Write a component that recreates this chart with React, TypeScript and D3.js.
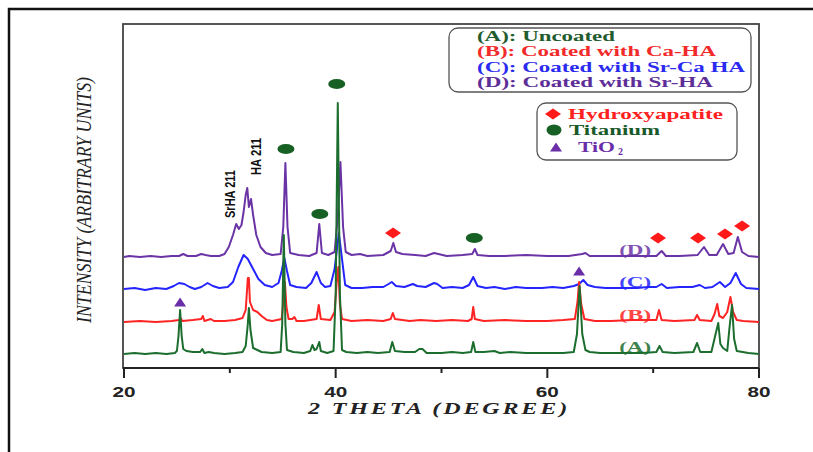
import React from 'react';
import * as d3 from 'd3';

const W = 813;
const H = 452;
const plotLeft = 124;
const plotRight = 759;
const plotTop = 24;
const plotBottom = 368;

// 2-theta (degree) vs. intensity above each pattern's own baseline (arbitrary units)
const traceA: [number, number][] = [
  [20, 0], [21, 1], [22, 0], [23, 1], [24, 0], [24.8, 1], [25.0, 3], [25.15, 18], [25.3, 44], [25.45, 18],
  [25.6, 5], [25.9, 3], [26.5, 2], [27.2, 2], [27.4, 5], [27.6, 1], [28, 2], [28.5, 1], [29.5, 0], [30.5, 1],
  [31.2, 2], [31.5, 8], [31.7, 30], [31.8, 46], [31.95, 24], [32.2, 6], [32.6, 4], [33, 2], [34, 1], [34.8, 2],
  [34.95, 30], [35.1, 119], [35.25, 30], [35.4, 4], [36, 2], [37, 1], [37.6, 3], [37.8, 9], [38.0, 4], [38.2, 5],
  [38.45, 12], [38.6, 3], [39.2, 1], [39.8, 3], [40.0, 60], [40.2, 251], [40.4, 60], [40.6, 4], [41, 2], [42, 1],
  [43, 2], [44, 1], [45.1, 2], [45.35, 12], [45.6, 3], [46.5, 2], [47.5, 2], [47.9, 5], [48.2, 5], [48.6, 1],
  [50, 1], [51, 2], [52, 1], [52.8, 2], [53.0, 12], [53.2, 2], [54, 2], [55, 3], [55.5, 1], [56.5, 2],
  [58, 1], [60, 1], [61.5, 1], [62.5, 2], [62.8, 20], [63.05, 68], [63.3, 20], [63.6, 4], [64, 2], [65, 1],
  [67, 1], [69, 1], [70.3, 2], [70.6, 8], [70.9, 2], [72, 1], [73.8, 2], [74.15, 11], [74.45, 2], [75.5, 2],
  [75.9, 20], [76.15, 31], [76.35, 10], [76.6, 6], [77.0, 3], [77.2, 25], [77.45, 49], [77.65, 15], [77.9, 3], [79, 1],
  [80, 0],
];

const traceB: [number, number][] = [
  [20, 0], [21.5, 1], [23, 0], [24.5, 1], [25.2, 2], [25.35, 4], [25.5, 1], [26.5, 2], [27.3, 3], [27.45, 6],
  [27.6, 1], [28.2, 3], [28.5, 1], [29.5, 1], [30.5, 2], [31.2, 4], [31.5, 12], [31.7, 44], [31.8, 44], [31.9, 20],
  [32.2, 12], [32.6, 10], [33.0, 6], [33.5, 2], [34, 1], [34.9, 3], [35.05, 20], [35.2, 40], [35.35, 15], [35.55, 3],
  [35.9, 3], [36.1, 5], [36.3, 1], [37, 1], [38.2, 3], [38.4, 17], [38.6, 3], [39.5, 2], [39.9, 10], [40.1, 40],
  [40.25, 55], [40.4, 18], [40.6, 3], [41.5, 1], [43, 2], [44.5, 1], [45.2, 3], [45.4, 9], [45.6, 3], [46.3, 2],
  [47, 1], [48, 2], [49.5, 1], [51, 2], [52.5, 1], [52.85, 3], [53.0, 15], [53.15, 3], [54, 1], [56, 2],
  [58, 1], [60, 1], [61.5, 2], [62.6, 3], [62.85, 20], [63.0, 40], [63.2, 18], [63.5, 3], [64.5, 1], [66, 1],
  [68, 2], [70.3, 2], [70.55, 12], [70.8, 2], [72, 1], [73.9, 2], [74.15, 7], [74.4, 2], [75.5, 1], [75.8, 8],
  [76.05, 18], [76.25, 6], [76.6, 4], [77.0, 10], [77.3, 25], [77.55, 10], [77.9, 2], [78.5, 1], [80, 0],
];

const traceC: [number, number][] = [
  [20, 0], [21, 1], [22, -1], [23, 1], [24, 0], [24.7, 3], [25.2, 6], [25.7, 5], [26.2, 2], [26.7, 0],
  [27.3, 2], [27.9, 6], [28.4, 3], [29, 1], [29.8, 2], [30.3, 7], [30.8, 22], [31.3, 34], [31.7, 30], [32.2, 20],
  [32.7, 10], [33.3, 4], [34, 2], [34.6, 6], [34.9, 18], [35.15, 31], [35.4, 18], [35.7, 4], [36.3, 2], [37.2, 1],
  [37.7, 6], [38.2, 17], [38.6, 6], [39.0, 2], [39.5, 3], [39.9, 20], [40.3, 56], [40.6, 30], [40.9, 4], [41.5, 1],
  [42.5, 1], [43.5, 2], [44.5, 2], [45.0, 5], [45.3, 7], [45.7, 3], [46.5, 2], [47.3, 5], [47.7, 3], [48.5, 2],
  [49.3, 6], [49.6, 5], [50.1, 1], [51, 2], [52, 1], [52.6, 4], [53.0, 12], [53.4, 3], [54.2, 1], [55, 2],
  [56, 0], [57, 2], [58, 1], [59.5, 1], [60.5, 2], [61.5, 1], [62.5, 3], [63.0, 5], [63.4, 9], [63.8, 4],
  [64.5, 2], [65.5, 1], [67, 1], [68.5, 1], [69.5, 2], [70.3, 2], [70.8, 5], [71.3, 1], [72.5, 2], [73.7, 2],
  [74.4, 4], [74.9, 1], [75.6, 2], [76.3, 7], [76.8, 2], [77.3, 6], [77.8, 16], [78.3, 5], [78.8, 1], [80, 0],
];

const traceD: [number, number][] = [
  [20, 0], [20.5, 1], [21.5, 0], [22.5, 1], [23.5, 0], [24.5, 1], [25.2, 1], [25.6, 3], [26, 1], [26.8, 1],
  [27.3, 3], [27.7, 2], [28.2, 1], [29, 1], [29.5, 3], [29.9, 10], [30.3, 22], [30.6, 33], [30.85, 28], [31.1, 32],
  [31.3, 45], [31.5, 62], [31.65, 69], [31.8, 50], [32.0, 58], [32.2, 42], [32.5, 22], [32.9, 10], [33.4, 4], [34, 2],
  [34.8, 3], [35.05, 30], [35.25, 94], [35.45, 30], [35.7, 4], [36.5, 2], [37.5, 1], [38.2, 4], [38.45, 33], [38.7, 4],
  [39.3, 2], [39.9, 5], [40.2, 40], [40.45, 95], [40.7, 30], [40.95, 5], [41.5, 2], [42.3, 3], [43, 1], [44.5, 2],
  [45.2, 6], [45.45, 14], [45.7, 5], [46.3, 3], [47.5, 2], [48.5, 1], [49.3, 4], [49.7, 3], [50.5, 1], [52, 2],
  [52.9, 3], [53.15, 8], [53.4, 2], [54.5, 1], [56, 1], [58, 2], [60, 1], [62, 1], [63.3, 3], [63.6, 4],
  [64, 1], [66, 1], [68, 1], [70.3, 1], [70.8, 6], [71.2, 1], [72.5, 1], [74.2, 2], [74.8, 10], [75.3, 2],
  [76.0, 2], [76.6, 13], [77.1, 3], [77.6, 4], [78.0, 20], [78.4, 5], [79, 1], [80, 0],
];

const seriesKeys = ['D', 'C', 'B', 'A'];
const seriesOffsets = [111, 79, 46, 14];
const seriesTraces = [traceD, traceC, traceB, traceA];

const legendLabels = [
  '(A): Uncoated',
  '(B): Coated with Ca-HA',
  '(C): Coated with Sr-Ca HA',
  '(D): Coated with Sr-HA',
];
const phaseLabels = ['Hydroxyapatite', 'Titanium', 'TiO'];

// peak markers: [2theta, intensity level]
const hydroxyapatiteMarks: [number, number][] = [[45.42, 135], [70.46, 130], [74.24, 130], [76.79, 134], [78.4, 142]];
const titaniumMarks: [number, number][] = [[35.3, 219], [38.5, 154], [40.1, 284], [53.1, 130]];
const tio2Marks: [number, number][] = [[25.3, 66], [63.0, 97]];

const majorTicks = [20, 40, 60, 80];
const minorTicks = [30, 50, 70];

const colors: Record<string, string> = {
  A: '#1c6e2e',
  B: '#ff2424',
  C: '#2424ff',
  D: '#6b34a6',
};
const textColors: Record<string, string> = {
  A: '#1f5c2e',
  B: '#f22a2a',
  C: '#2a2af0',
  D: '#5e2e98',
};

const x = d3.scaleLinear().domain([20, 80]).range([plotLeft, plotRight]);
const y = d3.scaleLinear().domain([0, 344]).range([plotBottom, plotTop]);

const diamond = (cx: number, cy: number, w: number, h: number) =>
  `M${cx - w},${cy}L${cx},${cy - h}L${cx + w},${cy}L${cx},${cy + h}Z`;
const triangle = (cx: number, cy: number, w: number, h: number) =>
  `M${cx - w},${cy + h / 2}L${cx},${cy - h / 2}L${cx + w},${cy + h / 2}Z`;

export default function App() {
  const serif = '"Liberation Serif", "DejaVu Serif", serif';
  const sans = '"Liberation Sans", Arial, sans-serif';

  return (
    <svg width={W} height={H} style={{ position: 'absolute', left: 0, top: 0, background: '#fff' }}>
      {/* outer frame */}
      <path d={`M9,${H}V9H${W}`} fill="none" stroke="#111" strokeWidth={2.5} />

      {/* plot box */}
      <rect x={plotLeft - 1} y={plotTop} width={plotRight - plotLeft + 1} height={plotBottom - plotTop}
        fill="none" stroke="#444" strokeWidth={1.8} />
      <line x1={plotLeft - 1} x2={plotRight} y1={plotBottom} y2={plotBottom} stroke="#222" strokeWidth={2} />

      {majorTicks.map(t => (
        <g key={t}>
          <line x1={x(t)} x2={x(t)} y1={plotBottom} y2={plotBottom + 10} stroke="#222" strokeWidth={2} />
          <text x={x(t)} y={397} textAnchor="middle" fontFamily={sans} fontWeight="bold" fontSize={14}
            textLength={23} lengthAdjust="spacingAndGlyphs" fill="#222">{t}</text>
        </g>
      ))}
      {minorTicks.map(t => (
        <line key={t} x1={x(t)} x2={x(t)} y1={plotBottom} y2={plotBottom + 5} stroke="#222" strokeWidth={2} />
      ))}

      <text x={439} y={414} textAnchor="middle" fontFamily={serif} fontStyle="italic" fontWeight="bold"
        fontSize={17} letterSpacing={2} textLength={262} lengthAdjust="spacingAndGlyphs" fill="#222">2 THETA (DEGREE)</text>

      <text transform="translate(91,200) rotate(-90)" textAnchor="middle" fontFamily={serif} fontStyle="italic"
        fontSize={21} textLength={246} lengthAdjust="spacingAndGlyphs" fill="#222">INTENSITY (ARBITRARY UNITS)</text>

      {/* patterns */}
      {seriesKeys.map((k, i) => {
        const line = d3.line<[number, number]>()
          .x(d => x(d[0]))
          .y(d => y(d[1] + seriesOffsets[i]));
        return (
          <path key={k} d={line(seriesTraces[i]) || ''} fill="none" stroke={colors[k]} strokeWidth={2}
            strokeLinejoin="round" />
        );
      })}

      {/* pattern labels */}
      {seriesKeys.map((k, i) => (
        <text key={k} x={x(68.3)} y={y(seriesOffsets[i]) - 2} textAnchor="middle" fontFamily={serif}
          fontWeight="bold" fontSize={15} textLength={32} lengthAdjust="spacingAndGlyphs" fill={colors[k]}
          opacity={0.85}>({k})</text>
      ))}

      {/* peak annotations */}
      <text transform="translate(235,218) rotate(-90)" fontFamily={sans} fontWeight="bold" fontSize={14}
        textLength={48} lengthAdjust="spacingAndGlyphs" fill="#111">SrHA 211</text>
      <text transform="translate(261,175) rotate(-90)" fontFamily={sans} fontWeight="bold" fontSize={14}
        textLength={37} lengthAdjust="spacingAndGlyphs" fill="#111">HA 211</text>

      {hydroxyapatiteMarks.map((m, i) => (
        <path key={`h${i}`} d={diamond(x(m[0]), y(m[1]), 8, 5.5)} fill="#ff1a1a" />
      ))}
      {titaniumMarks.map((m, i) => (
        <ellipse key={`t${i}`} cx={x(m[0])} cy={y(m[1])} rx={8.5} ry={5} fill="#166024" />
      ))}
      {tio2Marks.map((m, i) => (
        <path key={`o${i}`} d={triangle(x(m[0]), y(m[1]), 6, 9)} fill="#6a2ea8" />
      ))}

      {/* sample legend */}
      <rect x={449} y={28} width={302} height={64} rx={9} fill="#fff" stroke="#555" strokeWidth={1.3} />
      {legendLabels.map((l, i) => (
        <text key={l} x={477} y={41 + i * 15.3} fontFamily={serif} fontWeight="bold" fontSize={15}
          textLength={[138, 239, 268, 236][i]} lengthAdjust="spacingAndGlyphs"
          fill={textColors[seriesKeys[3 - i]]}>{l}</text>
      ))}

      {/* phase legend */}
      <rect x={537} y={103} width={200} height={57} rx={9} fill="#fff" stroke="#555" strokeWidth={1.3} />
      <path d={diamond(553, 114, 8, 5.5)} fill="#ff1a1a" />
      <text x={568} y={119} fontFamily={serif} fontWeight="bold" fontSize={15} textLength={155}
        lengthAdjust="spacingAndGlyphs" fill="#ff2020">{phaseLabels[0]}</text>
      <ellipse cx={554} cy={130} rx={7.5} ry={5.5} fill="#166024" />
      <text x={569} y={135} fontFamily={serif} fontWeight="bold" fontSize={15} textLength={91}
        lengthAdjust="spacingAndGlyphs" fill="#1a5a2a">{phaseLabels[1]}</text>
      <path d={triangle(556, 147, 6, 9)} fill="#6a2ea8" />
      <text x={578} y={152} fontFamily={serif} fontWeight="bold" fontSize={15} fill="#6a2ea8">
        <tspan textLength={37} lengthAdjust="spacingAndGlyphs">{phaseLabels[2]}</tspan>
        <tspan dx={3} dy={3} fontSize={10}>2</tspan>
      </text>
    </svg>
  );
}
